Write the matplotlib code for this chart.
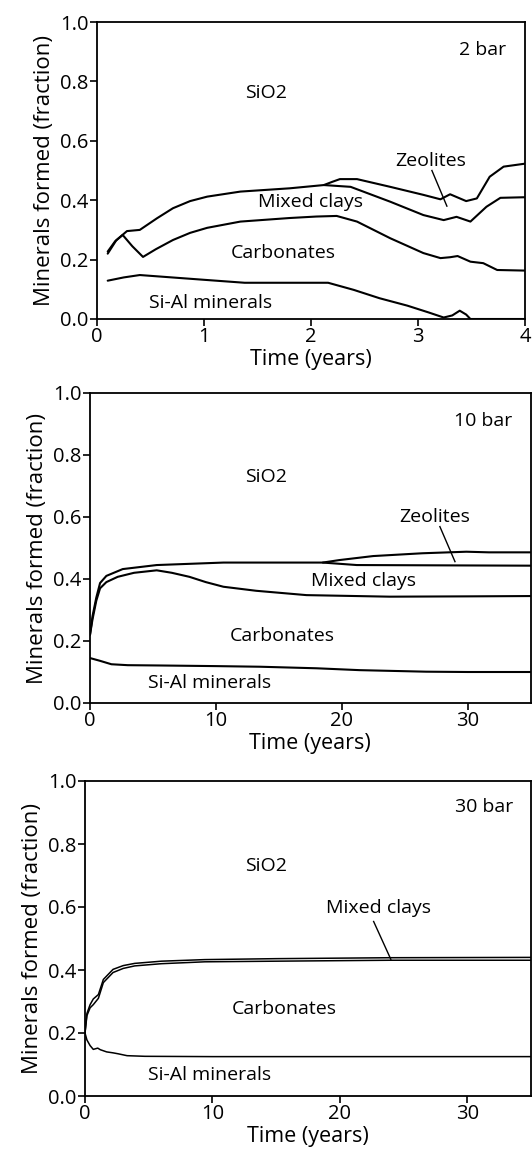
import matplotlib
matplotlib.use("Agg")
import matplotlib.pyplot as plt

plt.rcParams['font.family'] = ['Open Sans', 'DejaVu Sans']

# ---------------- data: 2 bar ----------------
sial_t_2 = [0.10, 0.25, 0.40, 0.70, 1.00, 1.38, 1.80, 2.16, 2.40, 2.64, 2.90, 3.10, 3.24, 3.32, 3.39, 3.45, 3.49, 3.70, 4.00]
sial_v_2 = [0.129, 0.140, 0.148, 0.140, 0.132, 0.122, 0.122, 0.122, 0.098, 0.070, 0.045, 0.022, 0.005, 0.012, 0.028, 0.015, 0.0, 0.0, 0.0]
carb_t_2 = [0.10, 0.17, 0.24, 0.33, 0.43, 0.55, 0.71, 0.87, 1.03, 1.34, 1.80, 2.05, 2.24, 2.43, 2.74, 3.05, 3.21, 3.30, 3.37, 3.49, 3.61, 3.74, 4.00]
carb_v_2 = [0.227, 0.262, 0.283, 0.245, 0.209, 0.235, 0.266, 0.290, 0.307, 0.328, 0.340, 0.345, 0.347, 0.328, 0.272, 0.222, 0.205, 0.208, 0.212, 0.193, 0.188, 0.165, 0.163]
mixed_t_2 = [0.10, 0.18, 0.28, 0.40, 0.56, 0.71, 0.87, 1.03, 1.34, 1.80, 2.12, 2.37, 2.74, 3.05, 3.24, 3.36, 3.49, 3.64, 3.77, 4.00]
mixed_v_2 = [0.220, 0.265, 0.296, 0.300, 0.339, 0.373, 0.397, 0.412, 0.429, 0.440, 0.451, 0.445, 0.395, 0.350, 0.333, 0.344, 0.328, 0.378, 0.408, 0.410]
zeol_t_2 = [2.12, 2.20, 2.27, 2.43, 2.74, 3.05, 3.21, 3.30, 3.45, 3.55, 3.67, 3.80, 4.00]
zeol_v_2 = [0.451, 0.462, 0.471, 0.471, 0.445, 0.418, 0.403, 0.420, 0.397, 0.406, 0.479, 0.513, 0.523]

# ---------------- data: 10 bar ----------------
sial_t_10 = [0, 0.8, 1.7, 3, 5.6, 10, 13.5, 18, 21.4, 26.7, 30, 35]
sial_v_10 = [0.145, 0.136, 0.125, 0.122, 0.121, 0.119, 0.117, 0.112, 0.106, 0.101, 0.100, 0.100]
carb_t_10 = [0, 0.2, 0.5, 0.8, 1.3, 2.2, 3.5, 5.3, 6.5, 7.9, 9.2, 10.6, 13.2, 17.2, 23.8, 30, 35]
carb_v_10 = [0.22, 0.27, 0.33, 0.37, 0.39, 0.407, 0.420, 0.428, 0.420, 0.407, 0.390, 0.375, 0.362, 0.348, 0.343, 0.344, 0.345]
mixed_t_10 = [0, 0.2, 0.5, 0.8, 1.3, 2.6, 5.3, 10.6, 18.5, 21.2, 28, 35]
mixed_v_10 = [0.22, 0.28, 0.34, 0.387, 0.41, 0.432, 0.445, 0.453, 0.453, 0.445, 0.444, 0.443]
zeol_t_10 = [18.5, 19.8, 22.5, 26.4, 29.9, 31.7, 35]
zeol_v_10 = [0.453, 0.461, 0.474, 0.483, 0.488, 0.486, 0.486]

# ---------------- data: 30 bar ----------------
sial_t_30 = [0, 0.15, 0.4, 0.65, 1.0, 1.2, 1.7, 2.2, 2.6, 3.3, 4.7, 10, 20, 35]
sial_v_30 = [0.20, 0.178, 0.160, 0.148, 0.152, 0.147, 0.140, 0.137, 0.134, 0.128, 0.126, 0.125, 0.125, 0.125]
carb_t_30 = [0, 0.15, 0.4, 0.65, 1.05, 1.44, 2.2, 3.0, 3.9, 6, 9.4, 15, 24, 35]
carb_v_30 = [0.20, 0.255, 0.280, 0.290, 0.310, 0.360, 0.392, 0.405, 0.413, 0.420, 0.426, 0.428, 0.431, 0.431]
mixed_t_30 = [0, 0.15, 0.4, 0.65, 1.05, 1.44, 2.2, 3.0, 3.9, 6, 9.4, 15, 24, 35]
mixed_v_30 = [0.20, 0.262, 0.290, 0.308, 0.322, 0.370, 0.402, 0.414, 0.421, 0.428, 0.433, 0.436, 0.439, 0.440]

x_ticks_2 = [0, 1, 2, 3, 4]
x_ticks_long = [0, 10, 20, 30]
y_ticks = [0.0, 0.2, 0.4, 0.6, 0.8, 1.0]

W, H = 532, 1153
fig = plt.figure(figsize=(W / 100, H / 100), dpi=100)

def rect(l, r, t, b):
    return [l / W, 1 - b / H, (r - l) / W, (b - t) / H]

ax1 = fig.add_axes(rect(97, 525, 22, 319))
ax2 = fig.add_axes(rect(90, 530.5, 393, 703))
ax3 = fig.add_axes(rect(85, 531, 781, 1096))

LW = 1.5
TF = 14.5
LF = 15.5
YF = 16
AF = 14

def style(ax, xmax, xt):
    ax.set_xlim(0, xmax)
    ax.set_ylim(0, 1.0)
    ax.set_xticks(xt)
    ax.set_yticks(y_ticks)
    ax.set_yticklabels([f"{v:.1f}" for v in y_ticks])
    ax.tick_params(direction='out', length=5, width=1.2, labelsize=TF, pad=1)
    for s in ax.spines.values():
        s.set_linewidth(1.3)
    ax.set_xlabel("Time (years)", fontsize=LF, labelpad=1)
    ax.set_ylabel("Minerals formed (fraction)", fontsize=YF, labelpad=4)

# panel 1
for t, v in [(sial_t_2, sial_v_2), (carb_t_2, carb_v_2), (mixed_t_2, mixed_v_2), (zeol_t_2, zeol_v_2)]:
    ax1.plot(t, v, color='black', lw=LW, solid_capstyle='round')
style(ax1, 4, x_ticks_2)
ax1.text(3.6, 0.905, "2 bar", fontsize=AF, ha='center', va='center')
ax1.text(1.58, 0.76, "SiO2", fontsize=AF, ha='center', va='center')
ax1.text(3.12, 0.532, "Zeolites", fontsize=AF, ha='center', va='center')
ax1.plot([3.13, 3.27], [0.50, 0.38], color='black', lw=1.0)
ax1.text(2.0, 0.394, "Mixed clays", fontsize=AF, ha='center', va='center')
ax1.text(1.74, 0.222, "Carbonates", fontsize=AF, ha='center', va='center')
ax1.text(1.06, 0.055, "Si-Al minerals", fontsize=AF, ha='center', va='center')

# panel 2
for t, v in [(sial_t_10, sial_v_10), (carb_t_10, carb_v_10), (mixed_t_10, mixed_v_10), (zeol_t_10, zeol_v_10)]:
    ax2.plot(t, v, color='black', lw=LW, solid_capstyle='round')
style(ax2, 35, x_ticks_long)
ax2.text(31.2, 0.91, "10 bar", fontsize=AF, ha='center', va='center')
ax2.text(14.0, 0.73, "SiO2", fontsize=AF, ha='center', va='center')
ax2.text(27.4, 0.60, "Zeolites", fontsize=AF, ha='center', va='center')
ax2.plot([27.8, 29.0], [0.569, 0.456], color='black', lw=1.0)
ax2.text(21.7, 0.394, "Mixed clays", fontsize=AF, ha='center', va='center')
ax2.text(15.3, 0.217, "Carbonates", fontsize=AF, ha='center', va='center')
ax2.text(9.5, 0.064, "Si-Al minerals", fontsize=AF, ha='center', va='center')

# panel 3
for t, v in [(sial_t_30, sial_v_30), (carb_t_30, carb_v_30), (mixed_t_30, mixed_v_30)]:
    ax3.plot(t, v, color='black', lw=1.1, solid_capstyle='round')
style(ax3, 35, x_ticks_long)
ax3.text(31.3, 0.918, "30 bar", fontsize=AF, ha='center', va='center')
ax3.text(14.2, 0.73, "SiO2", fontsize=AF, ha='center', va='center')
ax3.text(23.0, 0.596, "Mixed clays", fontsize=AF, ha='center', va='center')
ax3.plot([22.65, 24.0], [0.554, 0.434], color='black', lw=1.0)
ax3.text(15.6, 0.276, "Carbonates", fontsize=AF, ha='center', va='center')
ax3.text(9.8, 0.067, "Si-Al minerals", fontsize=AF, ha='center', va='center')

fig.savefig("out.png", dpi=100)
